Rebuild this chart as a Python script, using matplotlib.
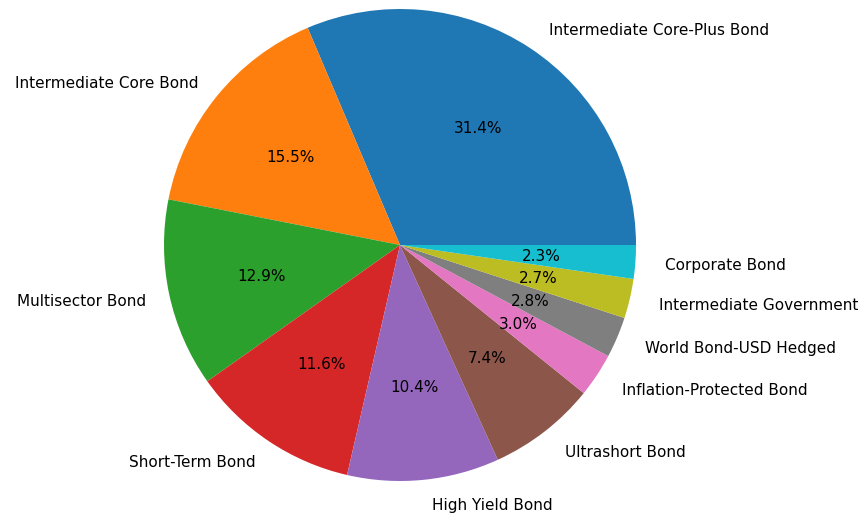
import matplotlib
matplotlib.use("Agg")
import matplotlib.pyplot as plt

categories = [
    "Intermediate Core-Plus Bond",
    "Intermediate Core Bond",
    "Multisector Bond",
    "Short-Term Bond",
    "High Yield Bond",
    "Ultrashort Bond",
    "Inflation-Protected Bond",
    "World Bond-USD Hedged",
    "Intermediate Government",
    "Corporate Bond",
]
shares = [31.4, 15.5, 12.9, 11.6, 10.4, 7.4, 3.0, 2.8, 2.7, 2.3]

W, H = 865, 517
fig = plt.figure(figsize=(W / 100, H / 100), dpi=100)

# pie centre (400, 245) px from top-left, radius ~236 px
R = 236
cx, cy = 400, H - 245
half = 1.25 * R
ax = fig.add_axes([(cx - half) / W, (cy - half) / H, 2 * half / W, 2 * half / H])
wedges, labels, pcts = ax.pie(shares, labels=categories, autopct="%1.1f%%",
                              textprops={"fontsize": 11})
# labels on the right side sit a touch further out in the original
for t in labels:
    x, y = t.get_position()
    if t.get_ha() == "left":
        x += 0.025
    t.set_position((x, y - 0.008))
for t in pcts:
    x, y = t.get_position()
    t.set_position((x, y - 0.006))
ax.set_xlim(-1.25, 1.25)
ax.set_ylim(-1.25, 1.25)
ax.set_aspect("equal")

fig.savefig("out.png", dpi=100)
